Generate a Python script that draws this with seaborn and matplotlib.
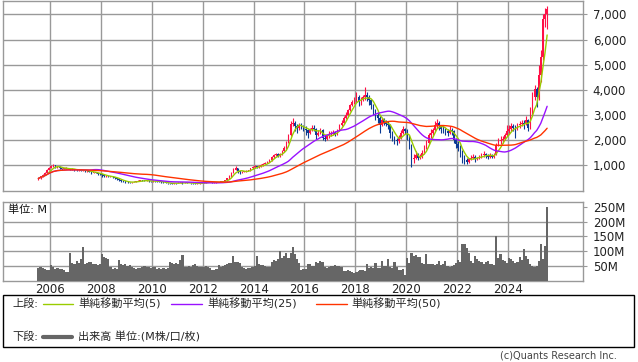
import numpy as np
import pandas as pd
import matplotlib
matplotlib.use("Agg")
import matplotlib.pyplot as plt
import matplotlib.dates as mdates
from matplotlib.lines import Line2D
from matplotlib.patches import Rectangle
import seaborn as sns

# monthly bars, Jul 2005 .. Jul 2025
first_open = 430
closes = [
    480, 560, 620, 700, 820, 900,                                    # 2005 (Jul-)
    960, 1000, 930, 950, 880, 860, 870, 900, 860, 830, 850, 820,     # 2006
    800, 830, 790, 800, 770, 780, 740, 700, 720, 700, 660, 640,      # 2007
    600, 560, 580, 540, 560, 520, 480, 450, 410, 370, 350, 340,      # 2008
    330, 320, 330, 350, 370, 390, 400, 390, 380, 390, 370, 360,      # 2009
    380, 370, 360, 350, 320, 310, 300, 290, 285, 275, 300, 290,      # 2010
    300, 320, 290, 310, 300, 300, 290, 280, 270, 280, 290, 300,      # 2011
    310, 330, 350, 340, 320, 320, 330, 340, 350, 360, 400, 480,      # 2012
    560, 700, 830, 880, 760, 720, 740, 760, 790, 800, 880, 950,      # 2013
    960, 930, 980, 1000, 1050, 1100, 1150, 1200, 1350, 1400, 1450, 1380,  # 2014
    1450, 1550, 1700, 1900, 2200, 2650, 2700, 2550, 2500, 2600, 2550, 2450,  # 2015
    2400, 2300, 2400, 2500, 2450, 2200, 2300, 2400, 2100, 2050, 2150, 2250,  # 2016
    2250, 2300, 2250, 2400, 2600, 2700, 2900, 3000, 3200, 3400, 3500, 3600,  # 2017
    3700, 3550, 3600, 3700, 3800, 3700, 3600, 3400, 3200, 3000, 2900, 2600,  # 2018
    2800, 2700, 2650, 2600, 2300, 2050, 2000, 1950, 2100, 2300, 2450, 2350,  # 2019
    2100, 1800, 1250, 1300, 1400, 1300, 1350, 1500, 1700, 1900, 2200, 2300,  # 2020
    2400, 2600, 2700, 2550, 2450, 2400, 2350, 2300, 2400, 2350, 2000, 1850,  # 2021
    1700, 1500, 1300, 1200, 1150, 1250, 1300, 1350, 1250, 1300, 1350, 1400,  # 2022
    1450, 1400, 1350, 1400, 1350, 1400, 1800, 1950, 2000, 2050, 2200, 2350,  # 2023
    2450, 2550, 2500, 2450, 2600, 2650, 2700, 2650, 2800, 2500, 3100, 3700,  # 2024
    4050, 3700, 4600, 5300, 6800, 7000, 7200,                        # 2025 (-Jul)
]
highs = [
    500, 590, 650, 740, 860, 940,
    1010, 1060, 1010, 980, 960, 900, 900, 930, 910, 870, 880, 860,
    840, 860, 840, 820, 810, 800, 790, 750, 740, 740, 710, 680,
    660, 610, 600, 590, 580, 570, 530, 490, 460, 420, 380, 370,
    360, 350, 350, 370, 390, 410, 420, 420, 400, 410, 400, 380,
    400, 390, 380, 370, 360, 330, 320, 310, 300, 295, 310, 310,
    320, 330, 330, 320, 320, 315, 310, 300, 290, 295, 300, 310,
    320, 345, 365, 360, 345, 335, 340, 355, 360, 375, 420, 500,
    600, 740, 900, 960, 900, 780, 770, 790, 820, 830, 900, 980,
    1020, 990, 1010, 1040, 1080, 1130, 1190, 1240, 1380, 1460, 1500, 1480,
    1500, 1600, 1750, 1950, 2250, 2750, 2900, 2750, 2650, 2700, 2700, 2600,
    2550, 2450, 2500, 2600, 2600, 2500, 2400, 2500, 2450, 2200, 2250, 2350,
    2350, 2400, 2350, 2450, 2650, 2800, 2950, 3100, 3250, 3450, 3600, 3700,
    3900, 3800, 3700, 3800, 4100, 3900, 3800, 3650, 3450, 3250, 3100, 2950,
    2900, 2900, 2800, 2750, 2650, 2350, 2150, 2100, 2200, 2400, 2550, 2500,
    2450, 2200, 1850, 1450, 1550, 1500, 1450, 1600, 1800, 2000, 2300, 2450,
    2500, 2750, 2850, 2750, 2600, 2550, 2500, 2450, 2550, 2500, 2400, 2100,
    1950, 1800, 1600, 1400, 1300, 1300, 1400, 1450, 1400, 1350, 1400, 1500,
    1550, 1500, 1450, 1480, 1450, 1500, 1900, 2100, 2150, 2150, 2300, 2600,
    2600, 2700, 2650, 2600, 2700, 2750, 2800, 2800, 2950, 2850, 3300, 3900,
    4200, 4100, 5000, 5600, 7000, 7250, 7350,
]
lows = [
    420, 470, 540, 600, 690, 800,
    880, 930, 900, 900, 860, 830, 840, 850, 840, 800, 810, 790,
    780, 790, 770, 770, 750, 750, 720, 650, 680, 680, 630, 610,
    540, 520, 540, 520, 530, 480, 450, 420, 380, 320, 320, 310,
    310, 300, 300, 320, 340, 360, 380, 370, 360, 370, 350, 340,
    350, 350, 340, 330, 300, 290, 280, 270, 265, 255, 270, 275,
    280, 290, 260, 280, 285, 285, 275, 260, 255, 260, 270, 280,
    290, 305, 325, 325, 305, 305, 310, 325, 335, 340, 355, 390,
    470, 550, 680, 800, 700, 640, 700, 720, 740, 760, 790, 860,
    900, 880, 910, 950, 980, 1040, 1090, 1130, 1180, 1280, 1360, 1330,
    1330, 1420, 1520, 1650, 1880, 2150, 2550, 2350, 2300, 2400, 2450, 2350,
    2200, 2100, 2250, 2350, 2350, 2050, 2150, 2250, 2000, 1950, 2000, 2100,
    2150, 2200, 2150, 2200, 2350, 2550, 2650, 2850, 2950, 3150, 3350, 3450,
    3500, 3350, 3400, 3550, 3600, 3550, 3400, 3250, 3000, 2800, 2700, 2300,
    2550, 2600, 2550, 2450, 2100, 1950, 1850, 1800, 1900, 2050, 2250, 2250,
    2000, 1650, 950, 1100, 1250, 1200, 1250, 1300, 1450, 1650, 1850, 2100,
    2200, 2350, 2500, 2400, 2300, 2300, 2200, 2150, 2250, 2200, 1900, 1700,
    1550, 1350, 1100, 1050, 1050, 1100, 1200, 1250, 1150, 1200, 1250, 1300,
    1350, 1300, 1250, 1300, 1300, 1300, 1400, 1750, 1850, 1900, 2000, 2150,
    2250, 2350, 2350, 2100, 2400, 2500, 2550, 2450, 2600, 2350, 2450, 3000,
    3600, 3300, 3600, 4300, 5200, 6500, 6400,
]
volumes = [  # M
    43, 45, 42, 38, 37, 36,
    53, 45, 40, 42, 38, 40, 35, 31, 30, 93, 60, 58,
    66, 60, 72, 113, 55, 60, 64, 62, 55, 58, 52, 55,
    90, 80, 78, 75, 45, 40, 42, 38, 69, 55, 52, 56,
    50, 52, 45, 42, 40, 44, 42, 48, 50, 46, 48, 44,
    45, 48, 40, 42, 38, 43, 40, 42, 65, 59, 55, 60,
    58, 71, 88, 48, 45, 50, 47, 52, 55, 50, 48, 45,
    46, 50, 48, 44, 36, 35, 38, 53, 45, 50, 52, 55,
    60, 59, 83, 65, 62, 60, 45, 42, 40, 44, 42, 48,
    50, 85, 55, 52, 53, 50, 45, 48, 65, 71, 68, 72,
    100, 77, 85, 94, 77, 95, 113, 90, 72, 60, 37, 38,
    40, 58, 55, 49, 50, 63, 60, 66, 62, 45, 43, 48,
    51, 50, 52, 50, 51, 48, 34, 33, 35, 34, 28, 27,
    28, 33, 35, 36, 34, 55, 43, 45, 43, 60, 42, 43,
    66, 49, 50, 74, 45, 43, 63, 45, 37, 36, 38, 20,
    76, 60, 93, 84, 86, 82, 80, 60, 55, 90, 58, 55,
    55, 52, 56, 66, 52, 55, 66, 50, 48, 49, 52, 60,
    70, 65, 124, 124, 110, 95, 66, 60, 84, 72, 66, 62,
    55, 62, 66, 55, 55, 52, 151, 78, 90, 70, 66, 60,
    78, 72, 66, 60, 62, 81, 70, 107, 85, 72, 55, 50,
    45, 50, 66, 124, 72, 119, 250,
]
ma_windows = [5, 25, 50]
ma_labels = ["単純移動平均(5)", "単純移動平均(25)", "単純移動平均(50)"]
price_ticks = [1000, 2000, 3000, 4000, 5000, 6000, 7000]
volume_ticks = [50, 100, 150, 200, 250]
year_ticks = [2006, 2008, 2010, 2012, 2014, 2016, 2018, 2020, 2022, 2024]

UP = "#FF1046"
DOWN = "#0A3A94"
MA_COLORS = ["#99CC00", "#9911FF", "#FF3300"]
GRID = "#999999"
VOL = "#666666"

sns.set_style("white")
plt.rcParams["font.family"] = ["DejaVu Sans", "Noto Sans CJK JP"]

df = pd.DataFrame({
    "date": pd.date_range("2005-07-01", periods=len(closes), freq="MS") + pd.Timedelta(days=15),
    "close": closes, "high": highs, "low": lows, "volume": volumes,
})
df["open"] = [first_open] + closes[:-1]
df["high"] = df[["high", "open", "close"]].max(axis=1)
df["low"] = df[["low", "open", "close"]].min(axis=1)
for w in ma_windows:
    df[f"ma{w}"] = df["close"].rolling(w, min_periods=1).mean()

fig = plt.figure(figsize=(6.38, 3.62), dpi=100)
ax = fig.add_axes([3 / 638, 1 - 190.5 / 362, 580 / 638, 190 / 362])
axv = fig.add_axes([3 / 638, 1 - 280.7 / 362, 580 / 638, 79 / 362])

xmin, xmax = pd.Timestamp("2004-02-24"), pd.Timestamp("2026-12-13")
year_dates = [pd.Timestamp(f"{y}-01-01") for y in year_ticks]

# candles
up = df["close"] >= df["open"]
colors = np.where(up, UP, DOWN)
ax.vlines(df["date"], df["low"], df["high"], colors=colors, linewidth=0.8, zorder=3)
body = (df["close"] - df["open"]).abs().clip(lower=25)
ax.bar(df["date"], body, bottom=df[["open", "close"]].min(axis=1), width=22,
       color=colors, linewidth=0, zorder=3)
for w, c in zip(ma_windows, MA_COLORS):
    sns.lineplot(x=df["date"], y=df[f"ma{w}"], ax=ax, color=c, linewidth=1, zorder=4)

ax.set_xlim(xmin, xmax)
ax.set_ylim(0, 7550)
ax.set_yticks(price_ticks)
ax.set_yticklabels([f"{v:,}" for v in price_ticks])
ax.set_xticks(year_dates)
ax.tick_params(axis="x", length=0, labelbottom=False)
ax.yaxis.tick_right()
ax.tick_params(axis="y", length=3, color=GRID, pad=4, labelsize=8.5, labelcolor="#222222")
ax.grid(True, color=GRID, linewidth=1)
ax.set_axisbelow(True)
ax.set_xlabel("")
ax.set_ylabel("")

# volume
axv.bar(df["date"], df["volume"], width=31, color=VOL, linewidth=0, zorder=3)
axv.set_xlim(xmin, xmax)
axv.set_ylim(0, 268)
axv.set_yticks(volume_ticks)
axv.set_yticklabels([f"{v}M" for v in volume_ticks])
axv.set_xticks(year_dates)
axv.xaxis.set_major_formatter(mdates.DateFormatter("%Y"))
axv.yaxis.tick_right()
axv.tick_params(axis="y", length=3, color=GRID, pad=4, labelsize=8.5, labelcolor="#222222")
axv.tick_params(axis="x", length=0, pad=2, labelsize=8.5, labelcolor="#222222")
for d in year_dates:
    axv.axvline(d, color=GRID, linewidth=1, zorder=1)
for v in volume_ticks[:-1]:
    axv.axhline(v, color=GRID, linewidth=1, zorder=1)
axv.text(0.008, 0.9, "単位: M", transform=axv.transAxes, fontsize=8,
         va="center", ha="left", color="#111111")

for a in (ax, axv):
    for s in a.spines.values():
        s.set_color(GRID)
        s.set_linewidth(1)

# legend box
fig.patches.append(Rectangle((3 / 638, 1 - 347 / 362), 631 / 638, 52 / 362,
                             transform=fig.transFigure, fill=False,
                             edgecolor="black", linewidth=1))
row1, row2 = 1 - 304 / 362, 1 - 337 / 362
fig.text(12 / 638, row1, "上段:", fontsize=8, va="center")
line_x = [(43, 73), (171, 202), (316, 347)]
text_x = [78, 207, 351]
for (x0, x1), tx, c, lab in zip(line_x, text_x, MA_COLORS, ma_labels):
    fig.add_artist(Line2D([x0 / 638, x1 / 638], [row1, row1], color=c, linewidth=1,
                          transform=fig.transFigure))
    fig.text(tx / 638, row1, lab, fontsize=8, va="center")
fig.text(12 / 638, row2, "下段:", fontsize=8, va="center")
fig.add_artist(Line2D([43 / 638, 72 / 638], [row2, row2], color=VOL, linewidth=3,
                      transform=fig.transFigure))
fig.text(78 / 638, row2, "出来高 単位:(M株/口/枚)", fontsize=8, va="center")
fig.text(617 / 638, 1 - 356 / 362, "(c)Quants Research Inc.", fontsize=7,
         ha="right", va="center", color="#444444")

fig.savefig("out.png", dpi=100)
